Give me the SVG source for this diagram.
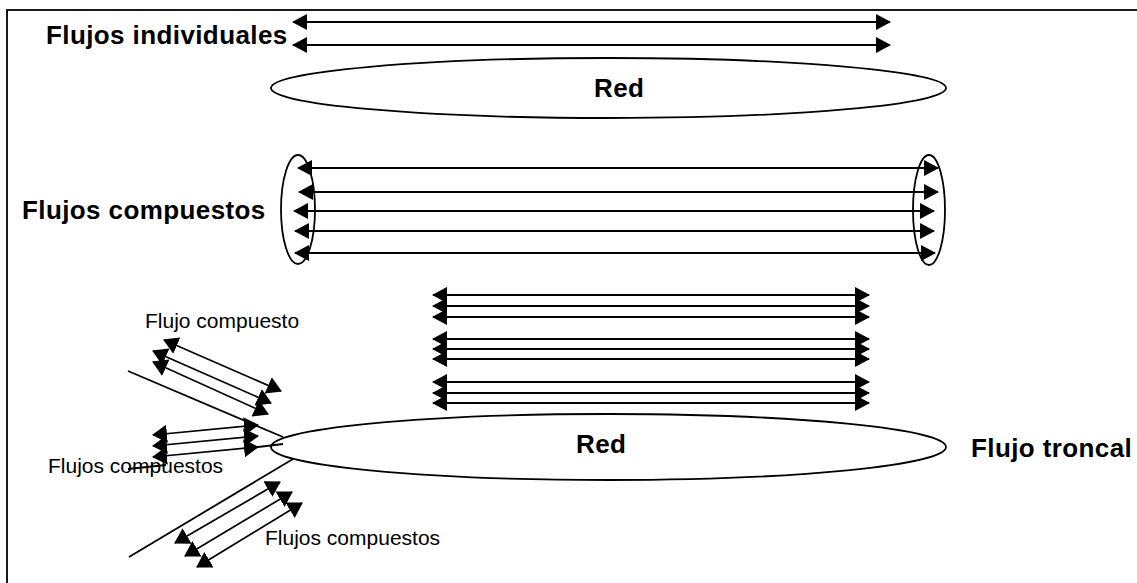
<svg xmlns="http://www.w3.org/2000/svg" width="1137" height="583" viewBox="0 0 1137 583">
<style>
.ln{stroke:#000;stroke-width:1.8;fill:none}
.arr{stroke:#000;stroke-width:1.8;fill:none;marker-start:url(#ah);marker-end:url(#ah)}
.sarr{stroke:#000;stroke-width:1.7;fill:none;marker-start:url(#sh);marker-end:url(#sh)}
.shape{stroke:#000;stroke-width:1.8;fill:none}
.bold{font-family:"Liberation Sans",Arial,sans-serif;font-weight:bold;font-size:26px;letter-spacing:0.4px;fill:#000}
.reg{font-family:"Liberation Sans",Arial,sans-serif;font-size:21px;fill:#000}
</style>
<defs>
<marker id="ah" viewBox="0 0 15 16" refX="14" refY="8" markerWidth="15" markerHeight="16" markerUnits="userSpaceOnUse" orient="auto-start-reverse">
<path d="M0,0 L15,8 L0,16 z" fill="#000"/>
</marker>
<marker id="sh" viewBox="0 0 15 18" refX="14" refY="9" markerWidth="15" markerHeight="18" markerUnits="userSpaceOnUse" orient="auto-start-reverse">
<path d="M0,0 L15,9 L0,18 z" fill="#000"/>
</marker>
</defs>
<rect x="0" y="0" width="1137" height="583" fill="#fff"/>
<rect id="frame" x="7" y="10" width="1140" height="590" class="shape"/>

<g id="node-red-top">
<ellipse cx="608.5" cy="88" rx="337.5" ry="30" class="shape"/>
<text x="594" y="97" class="bold" letter-spacing="1">Red</text>
</g>
<g id="node-red-bottom">
<ellipse cx="608.5" cy="447" rx="337.5" ry="33" class="shape"/>
<text x="576" y="453" class="bold" letter-spacing="1.5">Red</text>
</g>
<g id="node-bundle-left">
<ellipse cx="298" cy="209.5" rx="17" ry="54.5" class="shape"/>
</g>
<g id="node-bundle-right">
<ellipse cx="929" cy="210" rx="16" ry="55" class="shape"/>
</g>
<g id="labels">
<text x="46" y="44" class="bold">Flujos individuales</text>
<text x="22" y="219" class="bold">Flujos compuestos</text>
<text x="971" y="457" class="bold">Flujo troncal</text>
<text x="145" y="328" class="reg" font-size="20.3">Flujo compuesto</text>
<text x="48" y="473" class="reg">Flujos compuestos</text>
<text x="265" y="545" class="reg">Flujos compuestos</text>
</g>
<g id="connectors">
<line x1="293" y1="22" x2="890" y2="22" class="arr"/>
<line x1="293" y1="45" x2="890" y2="45" class="arr"/>

<line x1="298" y1="168" x2="938" y2="168" class="arr"/>
<line x1="299" y1="192" x2="938" y2="192" class="arr"/>
<line x1="294" y1="211" x2="934" y2="211" class="arr"/>
<line x1="295" y1="231" x2="934" y2="231" class="arr"/>
<line x1="295" y1="253" x2="935" y2="253" class="arr"/>

<line x1="433" y1="295" x2="869" y2="295" class="arr"/>
<line x1="433" y1="306" x2="869" y2="306" class="arr"/>
<line x1="433" y1="317" x2="869" y2="317" class="arr"/>
<line x1="433" y1="339" x2="869" y2="339" class="arr"/>
<line x1="433" y1="349" x2="869" y2="349" class="arr"/>
<line x1="433" y1="359" x2="869" y2="359" class="arr"/>
<line x1="433" y1="382" x2="869" y2="382" class="arr"/>
<line x1="433" y1="393" x2="869" y2="393" class="arr"/>
<line x1="433" y1="403" x2="869" y2="403" class="arr"/>

<line x1="128" y1="371" x2="283" y2="437" class="ln"/>
<line x1="129" y1="557" x2="293" y2="459" class="ln"/>

<line x1="164" y1="340" x2="281" y2="391" class="sarr"/>
<line x1="153" y1="351" x2="271" y2="403" class="sarr"/>
<line x1="153" y1="362" x2="268" y2="414" class="sarr"/>

<line x1="153" y1="435" x2="258" y2="425" class="sarr"/>
<line x1="153" y1="446" x2="258" y2="436" class="sarr"/>
<line x1="153" y1="457" x2="258" y2="447" class="sarr"/>
<line x1="258" y1="447" x2="283" y2="444" class="ln"/>
<line x1="128" y1="469" x2="166" y2="465" class="ln"/>

<line x1="175" y1="543" x2="280" y2="482" class="sarr"/>
<line x1="185" y1="556" x2="292" y2="492" class="sarr"/>
<line x1="197" y1="567" x2="302" y2="503" class="sarr"/>
</g>
</svg>
